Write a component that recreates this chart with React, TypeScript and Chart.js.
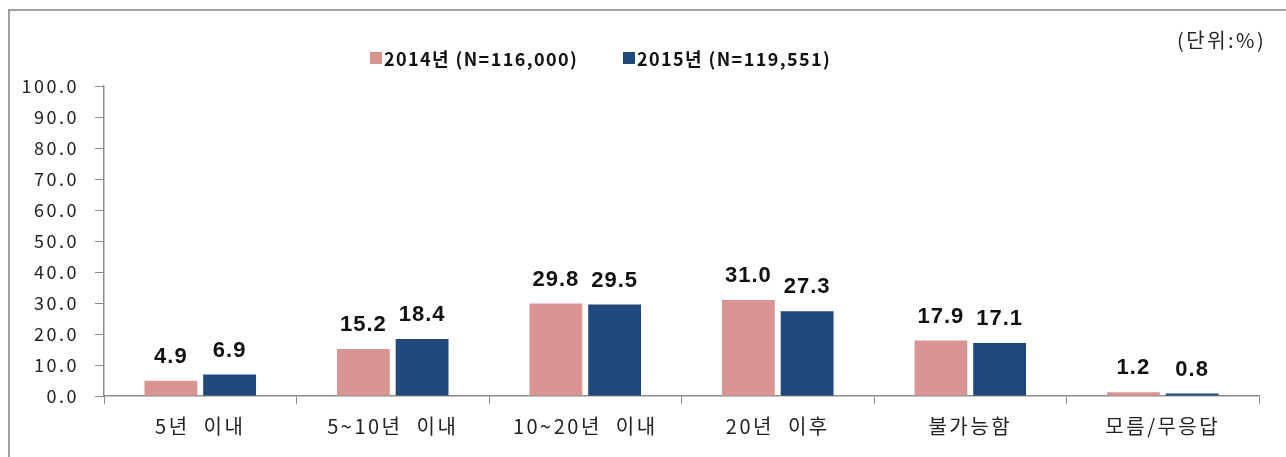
import React, { useEffect, useRef } from "react";
import { Chart, registerables } from "chart.js";

Chart.register(...registerables);

const categories = ["5년  이내", "5~10년  이내", "10~20년  이내", "20년  이후", "불가능함", "모름/무응답"];
const values2014 = [4.9, 15.2, 29.8, 31.0, 17.9, 1.2];
const values2015 = [6.9, 18.4, 29.5, 27.3, 17.1, 0.8];
const seriesLabels = ["2014년 (N=116,000)", "2015년 (N=119,551)"];
const seriesColors = ["#d99594", "#1f497d"];
const unitLabel = "(단위:%)";

const KR = "'Noto Sans CJK KR', 'Noto Sans', sans-serif";

const spacingPlugin = {
  id: "spacing",
  beforeLayout(chart: any) {
    (chart.ctx as any).letterSpacing = "2.5px";
  },
  beforeDraw(chart: any) {
    (chart.ctx as any).letterSpacing = "2.5px";
  },
};

const decorPlugin = {
  id: "decor",
  beforeDraw(chart: any) {
    const ctx = chart.ctx;
    ctx.save();
    ctx.fillStyle = "#ffffff";
    ctx.fillRect(0, 0, chart.width, chart.height);
    ctx.strokeStyle = "#a0a0a0";
    ctx.lineWidth = 2;
    ctx.strokeRect(9, 10, chart.width + 20, chart.height + 20);
    ctx.restore();
  },
  afterDraw(chart: any) {
    const ctx = chart.ctx;
    ctx.save();
    // legend
    ctx.font = `bold 18px ${KR}`;
    (ctx as any).letterSpacing = "1.4px";
    ctx.textBaseline = "middle";
    const legendX = [370, 623];
    seriesLabels.forEach((lab, i) => {
      ctx.fillStyle = seriesColors[i];
      ctx.fillRect(legendX[i], 52, 12, 12);
      ctx.fillStyle = "#111";
      ctx.textAlign = "left";
      ctx.fillText(lab, legendX[i] + 14, 59);
    });
    // unit
    ctx.font = `20px ${KR}`;
    (ctx as any).letterSpacing = "2.5px";
    ctx.fillStyle = "#222";
    ctx.textAlign = "left";
    ctx.fillText(unitLabel, 1177, 40);
    // data labels
    ctx.font = `bold 22px 'Liberation Sans', Arial, sans-serif`;
    (ctx as any).letterSpacing = "1px";
    ctx.textAlign = "center";
    ctx.textBaseline = "alphabetic";
    ctx.fillStyle = "#111";
    chart.data.datasets.forEach((ds: any, di: number) => {
      const meta = chart.getDatasetMeta(di);
      meta.data.forEach((bar: any, i: number) => {
        ctx.fillText(Number(ds.data[i]).toFixed(1), bar.x, bar.y - 18);
      });
    });
    ctx.restore();
  },
};

export default function App() {
  const ref = useRef<HTMLCanvasElement | null>(null);
  useEffect(() => {
    if (!ref.current) return;
    const chart = new Chart(ref.current, {
      type: "bar",
      data: {
        labels: categories,
        datasets: [
          { label: seriesLabels[0], data: values2014, backgroundColor: seriesColors[0] },
          { label: seriesLabels[1], data: values2015, backgroundColor: seriesColors[1] },
        ],
      },
      options: {
        responsive: false,
        animation: false,
        categoryPercentage: 0.61,
        barPercentage: 0.9,
        layout: { padding: { left: 0, top: 86, right: 27, bottom: 0 } },
        plugins: { legend: { display: false }, tooltip: { enabled: false }, title: { display: false } },
        scales: {
          x: {
            afterFit: (s: any) => { s.height = 61; },
            grid: { drawOnChartArea: false, drawTicks: true, tickLength: 8, color: "#8c8c8c", offset: true },
            border: { display: true, color: "#8c8c8c", width: 1.5 },
            ticks: { color: "#222", font: { size: 20, family: KR }, padding: 10 },
          },
          y: {
            min: 0,
            max: 100,
            afterFit: (s: any) => { s.width = 104; },
            grid: { drawOnChartArea: false, drawTicks: true, tickLength: 9, color: "#8c8c8c" },
            border: { display: true, color: "#8c8c8c", width: 1.5 },
            ticks: {
              stepSize: 10,
              color: "#222",
              font: { size: 18, family: KR },
              padding: 16,
              callback: (v: any) => Number(v).toFixed(1),
            },
          },
        },
      },
      plugins: [spacingPlugin, decorPlugin],
    });
    return () => chart.destroy();
  }, []);
  return (
    <canvas
      ref={ref}
      width={1286}
      height={457}
      style={{ position: "fixed", left: 0, top: 0, width: 1286, height: 457 }}
    />
  );
}
